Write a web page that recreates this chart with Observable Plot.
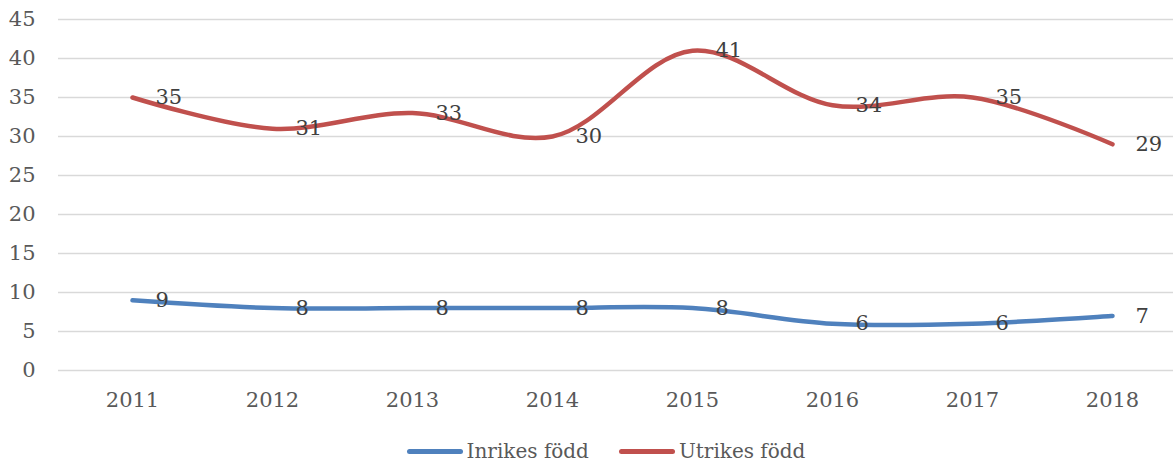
<!DOCTYPE html>
<html>
<head>
<meta charset="utf-8">
<script src="https://cdn.jsdelivr.net/npm/d3@7"></script>
<script src="https://cdn.jsdelivr.net/npm/@observablehq/plot@0.6"></script>
<style>
  body { margin: 0; background: #fff; font-family: "DejaVu Serif", serif; }
  #chart svg { display: block; }
  .legend { display: flex; justify-content: center; align-items: center; margin-top: 10px; font-size: 20px; color: #595959; line-height: 23px; padding-left: 39px; }
  .legend .item { display: flex; align-items: center; margin: 0 15px; }
  .legend .sw { width: 56px; height: 5px; border-radius: 3px; margin-right: 4px; }
</style>
</head>
<body>
<div id="chart"></div>
<div class="legend" id="legend"></div>
<script>
const years = ["2011", "2012", "2013", "2014", "2015", "2016", "2017", "2018"];
const inrikes = [9, 8, 8, 8, 8, 6, 6, 7];
const utrikes = [35, 31, 33, 30, 41, 34, 35, 29];
const seriesNames = ["Inrikes född", "Utrikes född"];
const seriesColors = ["#4F81BD", "#C0504D"];
const yTicks = [0, 5, 10, 15, 20, 25, 30, 35, 40, 45];

const data = [
  ...years.map((y, i) => ({year: y, value: inrikes[i], series: seriesNames[0]})),
  ...years.map((y, i) => ({year: y, value: utrikes[i], series: seriesNames[1]}))
];

const chart = Plot.plot({
  width: 1173,
  height: 430,
  marginLeft: 58,
  marginRight: 0,
  marginTop: 19,
  marginBottom: 60,
  style: {fontFamily: "DejaVu Serif", fontSize: "21px", color: "#595959", background: "#fff"},
  x: {type: "point", domain: years, range: [128.5, 1115], padding: 0, label: null},
  y: {domain: [0, 45], label: null},
  color: {domain: seriesNames, range: seriesColors},
  marks: [
    Plot.gridY(yTicks, {stroke: "#d9d9d9", strokeOpacity: 1, strokeWidth: 1.5}),
    Plot.axisY(yTicks, {tickSize: 0, tickPadding: 23, label: null, fill: "#595959"}),
    Plot.axisX(years, {tickSize: 0, tickPadding: 22, label: null, fill: "#595959"}),
    Plot.line(data, {x: "year", y: "value", z: "series", stroke: "series", curve: "catmull-rom", strokeWidth: 4.5, strokeLinecap: "round", strokeLinejoin: "round"}),
    Plot.text(data, {x: "year", y: "value", text: d => String(d.value), textAnchor: "start", dx: 23, fill: "#404040", fontSize: 21})
  ]
});
document.getElementById("chart").appendChild(chart);

const legend = document.getElementById("legend");
seriesNames.forEach((name, i) => {
  const item = document.createElement("div");
  item.className = "item";
  const sw = document.createElement("div");
  sw.className = "sw";
  sw.style.background = seriesColors[i];
  const label = document.createElement("span");
  label.textContent = name;
  item.appendChild(sw);
  item.appendChild(label);
  legend.appendChild(item);
});
</script>
</body>
</html>
